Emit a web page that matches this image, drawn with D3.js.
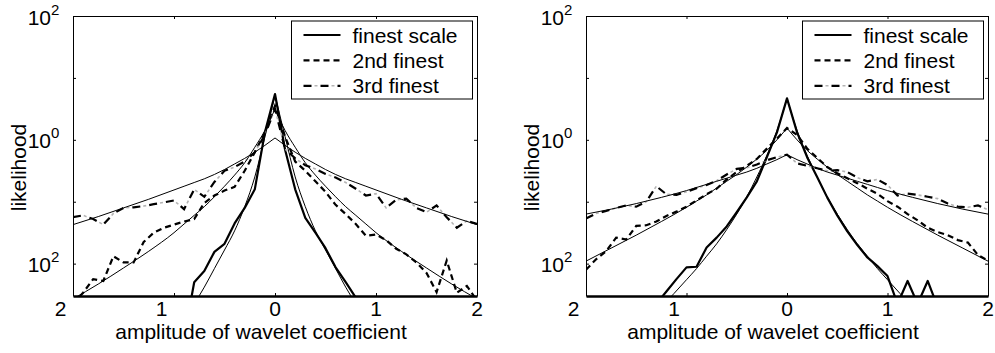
<!DOCTYPE html>
<html>
<head>
<meta charset="utf-8">
<script src="https://cdn.jsdelivr.net/npm/d3@7/dist/d3.min.js"></script>
<style>
  html, body { margin: 0; padding: 0; background: #fff; }
  svg { display: block; }
</style>
</head>
<body>
<svg id="chart" width="995" height="353"></svg>
<script>
// ---------------- data ----------------
// empirical histogram bins (amplitude of wavelet coefficient)
const amplitude = [-2.0,-1.9,-1.8,-1.7,-1.6,-1.5,-1.4,-1.3,-1.2,-1.1,-1.0,-0.9,-0.8,-0.7,-0.6,-0.5,-0.4,-0.3,-0.2,-0.1,
  0.0,0.1,0.2,0.3,0.4,0.5,0.6,0.7,0.8,0.9,1.0,1.1,1.2,1.3,1.4,1.5,1.6,1.7,1.8,1.9,2.0];
// sample positions of the fitted (thin) curves
const fitAmplitude = [-2,-1.75,-1.5,-1.25,-1,-0.9,-0.8,-0.7,-0.6,-0.5,-0.4,-0.3,-0.2,-0.1,0,
  0.1,0.2,0.3,0.4,0.5,0.6,0.7,0.8,0.9,1,1.25,1.5,1.75,2];

const seriesNames = ["finest scale", "2nd finest", "3rd finest"];
const xTickValues = [-2, -1, 0, 1, 2];
const xTickLabels = ["2", "1", "0", "1", "2"];
const yTickValues = [100, 10, 1, 0.1, 0.01];
const yLabelValues = [100, 1, 0.01];
const yLabelBase = ["10", "10", "10"];
const yLabelExponent = ["2", "0", "2"];
const yAxisTitle = "likelihood";
const xAxisTitle = "amplitude of wavelet coefficient";

// values are log10(likelihood)
// left panel
const leftFinestLog = [null,null,null,null,null,null,null,null,null,null,null,
  -3.2,-2.3,-2.12,-1.81,-1.68,-1.35,-1.1,-0.8,0.12,0.74,-0.16,-0.8,-1.26,-1.5,-1.75,-2.06,-2.3,-2.55,-3.0,
  null,null,null,null,null,null,null,null,null,null,null];
const leftSecondLog = [-2.65,-2.47,-2.25,-2.28,-1.88,-1.98,-1.98,-1.65,-1.5,-1.42,-1.37,-1.32,-1.28,-1.02,-0.9,-0.82,-0.76,-0.5,-0.2,0.12,
  0.55,0.05,-0.35,-0.5,-0.67,-0.84,-1.05,-1.2,-1.36,-1.55,-1.53,-1.62,-1.76,-1.85,-1.98,-2.15,-2.46,-1.95,-2.47,-2.36,-2.6];
const leftThirdLog = [-1.25,-1.22,-1.28,-1.37,-1.19,-1.10,-1.09,-1.07,-1.04,-1.01,-0.98,-1.12,-0.8,-0.92,-0.68,-0.5,-0.44,-0.35,-0.2,0.08,
  0.5,-0.15,-0.3,-0.41,-0.47,-0.55,-0.61,-0.69,-0.79,-0.9,-0.87,-1.1,-0.97,-0.95,-1.1,-1.17,-1.06,-1.25,-1.42,-1.31,-1.36];
const leftFinestFitLog = [null,null,null,null,-3.15,-2.9,-2.65,-2.38,-2.08,-1.78,-1.47,-1.08,-0.6,0.05,0.72,
  0.05,-0.6,-1.08,-1.47,-1.78,-2.08,-2.38,-2.65,-2.9,-3.15,null,null,null,null];
const leftSecondFitLog = [-2.57,-2.33,-2.07,-1.8,-1.5,-1.36,-1.22,-1.08,-0.92,-0.75,-0.57,-0.37,-0.12,0.15,0.5,
  0.15,-0.12,-0.37,-0.57,-0.75,-0.92,-1.08,-1.22,-1.36,-1.5,-1.8,-2.07,-2.33,-2.57];
const leftThirdFitLog = [-1.37,-1.24,-1.1,-0.96,-0.81,-0.75,-0.69,-0.63,-0.56,-0.48,-0.39,-0.3,-0.2,-0.09,0.03,
  -0.09,-0.2,-0.3,-0.39,-0.48,-0.56,-0.63,-0.69,-0.75,-0.81,-0.96,-1.1,-1.24,-1.37];

// right panel
const rightFinestLog = [null,null,null,null,null,null,null,
  -2.65,-2.45,-2.25,-2.06,-2.05,-1.74,-1.58,-1.4,-1.17,-0.93,-0.67,-0.28,0.12,
  0.67,0.12,-0.28,-0.6,-0.93,-1.22,-1.48,-1.7,-1.9,-2.04,-2.2,-2.65,-2.28,-2.65,-2.28,-2.7,
  null,null,null,null,null];
const rightSecondLog = [-2.1,-1.93,-1.8,-1.58,-1.61,-1.39,-1.38,-1.32,-1.23,-1.16,-1.08,-0.98,-0.88,-0.79,-0.64,-0.52,-0.42,-0.31,-0.14,0.02,
  0.19,0.08,-0.14,-0.29,-0.44,-0.54,-0.62,-0.7,-0.79,-0.87,-0.99,-1.08,-1.2,-1.3,-1.42,-1.49,-1.54,-1.62,-1.66,-1.86,-1.95];
const rightThirdLog = [-1.27,-1.19,-1.15,-1.1,-1.06,-1.08,-1.0,-0.75,-0.88,-0.89,-0.84,-0.78,-0.73,-0.66,-0.56,-0.47,-0.45,-0.4,-0.33,-0.28,
  -0.24,-0.38,-0.42,-0.46,-0.5,-0.49,-0.52,-0.61,-0.67,-0.64,-0.73,-0.9,-0.87,-0.89,-0.92,-0.95,-1.03,-1.08,-1.09,-1.06,-1.13];
const rightFinestFitLog = [null,null,-3.1,-2.7,-2.26,-2.08,-1.88,-1.68,-1.45,-1.2,-0.92,-0.6,-0.25,0.15,0.67,
  0.15,-0.25,-0.6,-0.92,-1.2,-1.45,-1.68,-1.88,-2.08,-2.26,-2.7,-3.1,null,null];
const rightSecondFitLog = [-1.96,-1.75,-1.54,-1.32,-1.09,-0.99,-0.89,-0.78,-0.67,-0.56,-0.44,-0.31,-0.17,0.0,0.19,
  0.0,-0.17,-0.31,-0.44,-0.56,-0.67,-0.78,-0.89,-0.99,-1.09,-1.32,-1.54,-1.75,-1.96];
const rightThirdFitLog = [-1.2,-1.12,-1.03,-0.93,-0.82,-0.77,-0.72,-0.67,-0.62,-0.57,-0.52,-0.46,-0.39,-0.32,-0.24,
  -0.32,-0.39,-0.46,-0.52,-0.57,-0.62,-0.67,-0.72,-0.77,-0.82,-0.93,-1.03,-1.12,-1.2];

// ---------------- drawing ----------------
const FONT = "'Liberation Sans', Arial, Helvetica, sans-serif";
const svg = d3.select("#chart");
const defs = svg.append("defs");
const yDomain = [0.003, 100];
const plotTop = 16, plotBottom = 296;

const panels = [
  { id: "L", x0: 73, x1: 477,
    empirical: [leftFinestLog, leftSecondLog, leftThirdLog],
    fits: [leftFinestFitLog, leftSecondFitLog, leftThirdFitLog] },
  { id: "R", x0: 586, x1: 988,
    empirical: [rightFinestLog, rightSecondLog, rightThirdLog],
    fits: [rightFinestFitLog, rightSecondFitLog, rightThirdFitLog] }
];

function toPoints(xs, logs) {
  return xs.map((a, i) => ({ a: a, v: logs[i] == null ? null : Math.pow(10, logs[i]) }));
}

function styledPath(g, d, style) {
  if (style === 0) {
    g.append("path").attr("d", d).attr("fill", "none").attr("stroke", "#000")
      .attr("stroke-width", 2.2).attr("stroke-linejoin", "round");
  } else if (style === 1) {
    g.append("path").attr("d", d).attr("fill", "none").attr("stroke", "#000")
      .attr("stroke-width", 2.2).attr("stroke-dasharray", "6,4");
  } else {
    g.append("path").attr("d", d).attr("fill", "none").attr("stroke", "#b4b4b4")
      .attr("stroke-width", 1.6).attr("stroke-dasharray", "0,11,3,3");
    g.append("path").attr("d", d).attr("fill", "none").attr("stroke", "#000")
      .attr("stroke-width", 2.2).attr("stroke-dasharray", "8,9");
  }
}

panels.forEach(p => {
  const x = d3.scaleLinear().domain([-2, 2]).range([p.x0, p.x1]);
  const y = d3.scaleLog().domain(yDomain).range([plotBottom, plotTop]);
  const g = svg.append("g");

  defs.append("clipPath").attr("id", "clip" + p.id)
    .append("rect").attr("x", p.x0).attr("y", plotTop)
    .attr("width", p.x1 - p.x0).attr("height", plotBottom - plotTop);

  g.append("rect").attr("x", p.x0).attr("y", plotTop)
    .attr("width", p.x1 - p.x0).attr("height", plotBottom - plotTop).attr("fill", "#fff");

  const plot = g.append("g").attr("clip-path", "url(#clip" + p.id + ")");
  const line = d3.line().defined(d => d.v != null).x(d => x(d.a)).y(d => y(d.v));
  const fitLine = d3.line().defined(d => d.v != null).x(d => x(d.a)).y(d => y(d.v)).curve(d3.curveMonotoneX);

  p.empirical.forEach((logs, k) => {
    styledPath(plot, line(toPoints(amplitude, logs)), k);
  });
  p.fits.forEach(logs => {
    const pts = toPoints(fitAmplitude, logs);
    [pts.filter(d => d.a <= 0), pts.filter(d => d.a >= 0)].forEach(half => {
      plot.append("path").attr("d", fitLine(half)).attr("fill", "none")
        .attr("stroke", "#000").attr("stroke-width", 1);
    });
  });

  // axes (inward ticks)
  const axB = g.append("g").attr("transform", `translate(0,${plotBottom})`)
    .call(d3.axisBottom(x).tickValues(xTickValues).tickSizeInner(-3).tickSizeOuter(0).tickFormat(() => ""));
  const axT = g.append("g").attr("transform", `translate(0,${plotTop})`)
    .call(d3.axisTop(x).tickValues(xTickValues).tickSizeInner(-3).tickSizeOuter(0).tickFormat(() => ""));
  const axL = g.append("g").attr("transform", `translate(${p.x0},0)`)
    .call(d3.axisLeft(y).tickValues(yTickValues).tickSizeInner(-3).tickSizeOuter(0).tickFormat(() => ""));
  const axR = g.append("g").attr("transform", `translate(${p.x1},0)`)
    .call(d3.axisRight(y).tickValues(yTickValues).tickSizeInner(-3).tickSizeOuter(0).tickFormat(() => ""));
  [axB, axT, axL, axR].forEach(a => {
    a.selectAll("path.domain").attr("stroke", "#000").attr("stroke-width", 1);
    a.selectAll(".tick line").attr("stroke", "#000").attr("stroke-width", 1);
    a.selectAll(".tick text").remove();
  });
  axB.select("path.domain").attr("stroke-width", 2.5);

  // x tick labels
  xTickValues.forEach((v, i) => {
    g.append("text").attr("x", x(v) + (v < 0 ? -12.5 : 0)).attr("y", 316)
      .attr("text-anchor", "middle").attr("font-family", FONT).attr("font-size", 21)
      .text(xTickLabels[i]);
  });
  // y tick labels: 10 with superscript
  yLabelValues.forEach((v, i) => {
    const yy = y(v) + 8.5;
    g.append("text").attr("x", p.x0 - 22).attr("y", yy).attr("text-anchor", "end")
      .attr("font-family", FONT).attr("font-size", 21).text(yLabelBase[i]);
    g.append("text").attr("x", p.x0 - 22).attr("y", yy - 10).attr("text-anchor", "start")
      .attr("font-family", FONT).attr("font-size", 15).text(yLabelExponent[i]);
  });

  // axis titles
  g.append("text")
    .attr("transform", `translate(${p.x0 - 47},${(plotTop + plotBottom) / 2 + 11.5}) rotate(-90)`)
    .attr("text-anchor", "middle").attr("font-family", FONT).attr("font-size", 21)
    .text(yAxisTitle);
  g.append("text").attr("x", (p.x0 + p.x1) / 2 - 14).attr("y", 339)
    .attr("text-anchor", "middle").attr("font-family", FONT).attr("font-size", 21)
    .text(xAxisTitle);

  // legend
  const lx = p.x1 - 185.5, ly = 21;
  const lg = g.append("g");
  lg.append("rect").attr("x", lx).attr("y", ly).attr("width", 181).attr("height", 78)
    .attr("fill", "#fff").attr("stroke", "#000").attr("stroke-width", 1);
  seriesNames.forEach((name, k) => {
    const yy = ly + 14 + k * 25.4;
    styledPath(lg, `M${lx + 12},${yy}H${lx + 49}`, k);
    lg.append("text").attr("x", lx + 61).attr("y", yy + 7.5)
      .attr("font-family", FONT).attr("font-size", 21).text(name);
  });
});
</script>
</body>
</html>
